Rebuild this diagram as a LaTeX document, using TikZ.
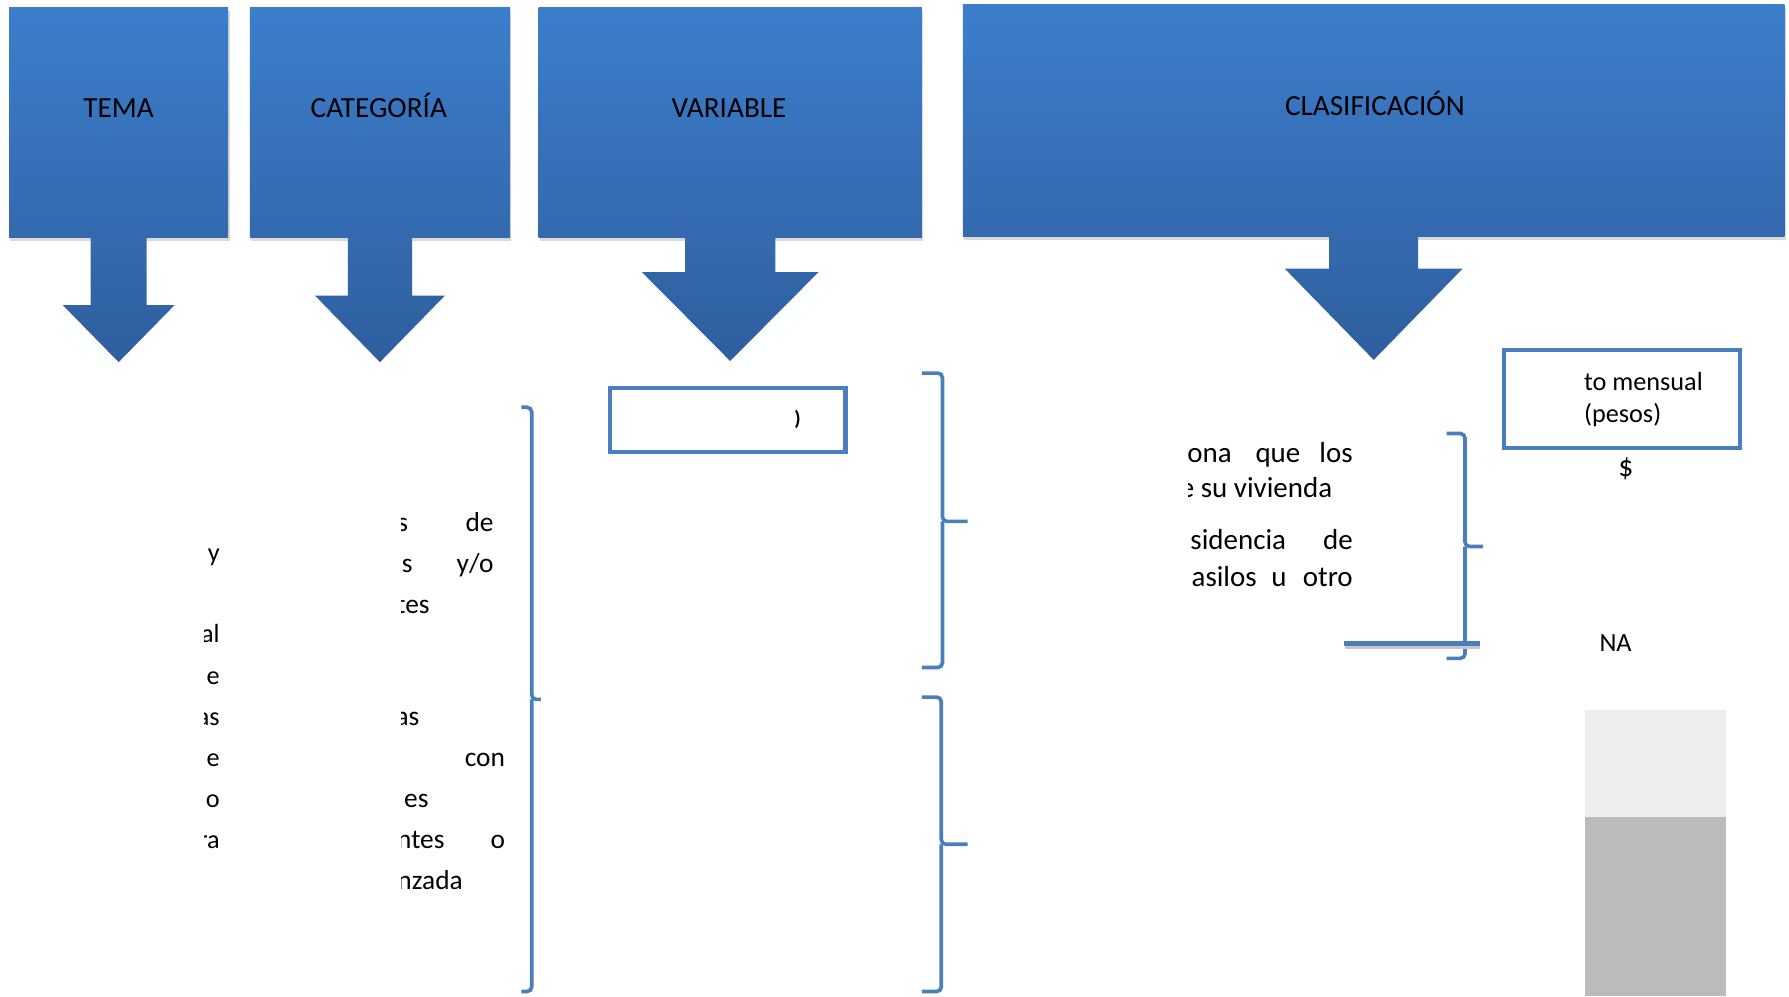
\documentclass[tikz,border=0pt]{standalone}
\usepackage{fontspec}
\setmainfont{Carlito}
\usetikzlibrary{shadows,calc}
\definecolor{boxtop}{RGB}{60,126,204}
\definecolor{boxbot}{RGB}{52,105,174}
\definecolor{arrtop}{RGB}{52,106,175}
\definecolor{arrbot}{RGB}{46,94,158}
\definecolor{brc}{RGB}{74,126,189}
\definecolor{lgray}{RGB}{237,237,237}
\definecolor{dgray}{RGB}{187,187,187}
\tikzset{
 hdrbox/.style={rectangle, inner sep=0pt, top color=boxtop, bottom color=boxbot, draw=none,
   drop shadow={shadow xshift=0.6pt, shadow yshift=-1.5pt, opacity=0.25, fill=black!60}},
 hdrtxt/.style={anchor=base, inner sep=0pt, font=\fontsize{12.8}{15}\selectfont},
 arrowsh/.style={top color=arrtop, bottom color=arrbot},
 brace/.style={draw=brc, line width=1.6pt, rounded corners=2pt},
 subbox/.style={rectangle, draw=brc, line width=1.8pt, fill=white, inner sep=0pt},
 txt/.style={inner sep=0pt, font=\fontsize{11.5}{14}\selectfont},
 txe/.style={txt, anchor=base east},
 txw/.style={txt, anchor=base west},
 txeM/.style={txe, font=\fontsize{12}{14}\selectfont},
 txeC/.style={txe, font=\fontsize{12.7}{15}\selectfont},
 txwC/.style={txw, font=\fontsize{12.7}{15}\selectfont},
}
\newcommand{\hdrarrow}[5]{%
 \shade[arrowsh] (#1.south) ++(-#2,-1) -- ++(0,#3+1) -- ++(#2-#4,0) -- ++(#4,#5) -- ++(#4,-#5) -- ++(#2-#4,0) -- ++(0,-#3-1) -- cycle;}
\begin{document}
\begin{tikzpicture}[x=0.5pt,y=-0.5pt]
\useasboundingbox (0,0) rectangle (1568,873);

% header boxes
\node[hdrbox, minimum width=96pt, minimum height=100.5pt] (temaBox) at (104,107.5) {};
\node[hdrbox, minimum width=114pt, minimum height=100.5pt] (catBox) at (333,107.5) {};
\node[hdrbox, minimum width=168pt, minimum height=100.5pt] (varBox) at (640,107.5) {};
\node[hdrbox, minimum width=360pt, minimum height=101.5pt] (clasBox) at (1204,105.5) {};

% arrows below the boxes
\hdrarrow{temaBox}{24.5}{59}{49}{50}
\hdrarrow{catBox}{28.2}{50.6}{57}{58.4}
\hdrarrow{varBox}{39.5}{30}{77.5}{78}
\hdrarrow{clasBox}{39}{28}{78}{80}

\node[hdrtxt] (tema) at (104,103) {TEMA};
\node[hdrtxt] (cat) at (332,103) {CATEGORÍA};
\node[hdrtxt] (var) at (639,103) {VARIABLE};
\node[hdrtxt] (clas) at (1205,101) {CLASIFICACIÓN};

% left column fragments
\begin{scope}
\clip (179,400) rectangle (300,800);
\node[txe] (l1) at (193,492) {y};
\node[txe] (l2) at (193,563) {al};
\node[txe] (l3) at (193,600) {e};
\node[txe] (l4) at (193,636) {as};
\node[txe] (l5) at (193,672) {e};
\node[txe] (l6) at (193,708) {o};
\node[txe] (l7) at (193,744) {ra};
\end{scope}

% middle column fragments
\begin{scope}
\clip (352,400) rectangle (460,800);
\node[txeM] (m1a) at (358,466) {s};
\node[txeM] (m1b) at (433,466) {de};
\node[txeM] (m2a) at (362,502) {s};
\node[txeM] (m2b) at (433,502) {y/o};
\node[txeM] (m3) at (377,538) {ntes};
\node[txeM] (m4) at (368,636) {as};
\node[txeM] (m5) at (443,672) {con};
\node[txeM] (m6) at (376,708) {es};
\node[txeM] (m7a) at (390,744) {ntes};
\node[txeM] (m7b) at (443,744) {o};
\node[txeM] (m8) at (406,780) {nzada};
\end{scope}

% braces
\draw[brace] (457,357) -| (466,613) -- (474,613);
\draw[brace] (466,613) |- (457,869);
\draw[brace] (808,327) -| (826,457) -- (848,457);
\draw[brace] (826,457) |- (808,585);
\draw[brace] (808,611) -| (825,740) -- (848,740);
\draw[brace] (825,740) |- (808,869);
\draw[brace] (1268,380) -| (1284,479) -- (1300,479);
\draw[brace] (1284,479) |- (1268,577);

% sub boxes
\node[subbox, minimum width=103pt, minimum height=28pt] (varSub) at (638,368) {};
\node[txt, font=\fontsize{9}{10}\bfseries] (varSubTxt) at (699,368) {)};
\node[subbox, minimum width=103.5pt, minimum height=43pt] (clasSub) at (1421.5,350) {};
\node[txw] (cs1) at (1388,342) {to mensual};
\node[txw] (cs2) at (1388,370) {(pesos)};
\node[txt, anchor=base, font=\fontsize{13}{15}\selectfont] (dollar) at (1425,418) {\$};
\node[txt, anchor=base] (na) at (1416,571) {NA};

% clasificacion text block
\begin{scope}
\clip (1042,380) rectangle (1200,530);
\node[txeC] (c1a) at (1080,405) {ona};
\node[txwC] (c1b) at (1100,405) {que};
\node[txeC] (c1c) at (1186,405) {los};
\node[txeC] (c2) at (1168,436) {e su vivienda};
\node[txwC] (c3a) at (1043,482) {sidencia};
\node[txeC] (c3b) at (1186,482) {de};
\node[txwC] (c4a) at (1044,514) {asilos};
\node[txwC] (c4b) at (1114,514) {u};
\node[txeC] (c4c) at (1186,514) {otro};
\end{scope}

% horizontal line with shadow
\coordinate (hl1) at (1178,564);
\coordinate (hl2) at (1297,564);
\draw[line width=2pt, black!22] ($(hl1)+(1,3)$) -- ($(hl2)+(0,3)$);
\draw[line width=2pt, brc] (hl1) -- (hl2);

% gray blocks
\fill[lgray] (1389,622) rectangle (1513,716);
\fill[dgray] (1389,716) rectangle (1513,873);
\end{tikzpicture}
\end{document}
